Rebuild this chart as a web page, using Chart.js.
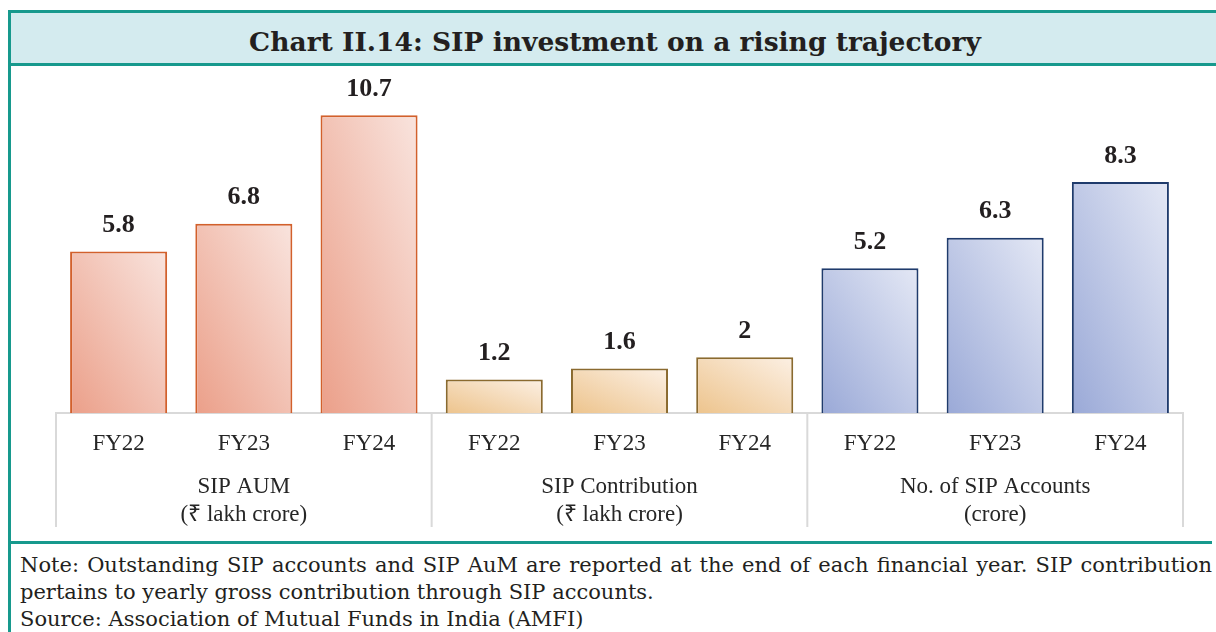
<!DOCTYPE html>
<html>
<head>
<meta charset="utf-8">
<script src="https://cdn.jsdelivr.net/npm/chart.js@4.4.1/dist/chart.umd.min.js"></script>
<style>
  html, body { margin: 0; padding: 0; background: #fff; overflow: hidden; }
  .box {
    position: absolute; left: 8px; top: 10px;
    width: 1230px; height: 660px;
    border: 3px solid #17998d;
  }
  .title {
    height: 50px;
    background: #d4ebef;
    border-bottom: 3px solid #17998d;
    text-align: center;
    font: bold 26.5px "DejaVu Serif", serif;
    color: #231f20;
    padding-right: 22px;
  }
  .title span { position: relative; top: 13px; }
  .plot { position: relative; width: 1205px; height: 475px; }
  .note {
    border-top: 3px solid #17998d;
    padding: 8px 0 0 9px;
    width: 1192px;
    font: 21px "DejaVu Serif", serif;
    color: #231f20;
    line-height: 27px;
    white-space: nowrap;
  }
  .note .j { text-align: justify; text-align-last: justify; white-space: normal; }
</style>
</head>
<body>
<div class="box">
  <div class="title"><span>Chart II.14: SIP investment on a rising trajectory</span></div>
  <div class="plot"><canvas id="Chart" width="1205" height="475"></canvas></div>
  <div class="note">
    <div class="j">Note: Outstanding SIP accounts and SIP AuM are reported at the end of each financial year. SIP contribution</div>
    <div>pertains to yearly gross contribution through SIP accounts.</div>
    <div>Source: Association of Mutual Funds in India (AMFI)</div>
  </div>
</div>
<script>
// 年度と各グループの値
let years = ['FY22', 'FY23', 'FY24'];
let groupNames = [['SIP AUM', '(₹ lakh crore)'], ['SIP Contribution', '(₹ lakh crore)'], ['No. of SIP Accounts', '(crore)']];
let aumValues = [5.8, 6.8, 10.7];
let contributionValues = [1.2, 1.6, 2];
let accountValues = [5.2, 6.3, 8.3];

// グループごとの色（左下の濃い色、右上の淡い色、枠線）
let groupColors = [
	{ dark: '#eb9f89', light: '#f9e4de', border: '#d2602c' },
	{ dark: '#edc48d', light: '#fcf0e4', border: '#8a6a2f' },
	{ dark: '#9aa9d7', light: '#e4e8f5', border: '#1f3b6c' },
];

let labels = [].concat(years, years, years);
let values = [].concat(aumValues, contributionValues, accountValues);

function groupOf(i) { return Math.floor(i / years.length); }

// 棒ごとのグラデーション（左下→右上、等色線は対角線に平行）
function barGradient(ctx) {
	let chart = ctx.chart;
	let c = groupColors[groupOf(ctx.dataIndex)];
	if (!chart.chartArea) return c.dark;
	let xs = chart.scales.x, ys = chart.scales.y;
	let cx = xs.getPixelForValue(ctx.dataIndex);
	let w = (xs.getPixelForValue(1) - xs.getPixelForValue(0)) * 0.775;
	let base = ys.getPixelForValue(0);
	let h = Math.max(1, base - ys.getPixelForValue(values[ctx.dataIndex]));
	let ax = 1 / (2 * w), ay = 1 / (2 * h);
	let n = ax * ax + ay * ay;
	let x0 = cx - w / 2;
	let g = chart.ctx.createLinearGradient(x0, base, x0 + ax / n, base - ay / n);
	g.addColorStop(0, c.dark);
	g.addColorStop(1, c.light);
	return g;
}

// 値ラベル・区切り線・グループ名
let extras = {
	id: 'extras',
	afterDraw(chart) {
		let ctx = chart.ctx;
		let xs = chart.scales.x;
		let area = chart.chartArea;
		let step = xs.getPixelForValue(1) - xs.getPixelForValue(0);
		ctx.save();
		// 値ラベル
		ctx.fillStyle = '#231f20';
		ctx.font = 'bold 26px "Liberation Serif", serif';
		ctx.textAlign = 'center';
		ctx.textBaseline = 'middle';
		chart.getDatasetMeta(0).data.forEach((bar, i) => {
			ctx.fillText(String(values[i]), bar.x, bar.y - 26);
		});
		// 区切り線
		ctx.strokeStyle = '#d9d9d9';
		ctx.lineWidth = 2;
		for (let k = 0; k <= groupNames.length; k++) {
			let x = xs.getPixelForValue(k * years.length) - step / 2;
			ctx.beginPath();
			ctx.moveTo(x, area.bottom);
			ctx.lineTo(x, area.bottom + 114);
			ctx.stroke();
		}
		// グループ名
		ctx.fillStyle = '#262626';
		ctx.font = '23px "Liberation Serif", serif';
		groupNames.forEach((lines, k) => {
			let x = xs.getPixelForValue(k * years.length + 1);
			ctx.fillText(lines[0], x, area.bottom + 74);
			ctx.fillText(lines[1], x, area.bottom + 102);
		});
		ctx.restore();
	}
};

let barCtx = document.getElementById('Chart');
let barConfig = {
	type: 'bar',
	data: {
		labels: labels,
		datasets: [{
			data: values,
			backgroundColor: barGradient,
			borderColor: (ctx) => groupColors[groupOf(ctx.dataIndex)].border,
			borderWidth: 2,
			borderSkipped: 'bottom',
			categoryPercentage: 1,
			barPercentage: 0.775,
		}],
	},
	options: {
		responsive: false,
		animation: false,
		layout: { padding: { left: 45, right: 33, top: 13, bottom: 0 } },
		plugins: { legend: { display: false }, tooltip: { enabled: false } },
		scales: {
			x: {
				grid: { display: false, drawTicks: false },
				border: { display: true, color: '#d9d9d9', width: 2 },
				ticks: {
					color: '#262626',
					font: { family: '"Liberation Serif", serif', size: 23 },
					padding: 17,
				},
				afterFit(scale) { scale.height = 128; },
			},
			y: {
				display: false,
				min: 0,
				max: 12,
			}
		},
	},
	plugins: [extras],
};
let barChart = new Chart(barCtx, barConfig);
</script>
</body>
</html>
